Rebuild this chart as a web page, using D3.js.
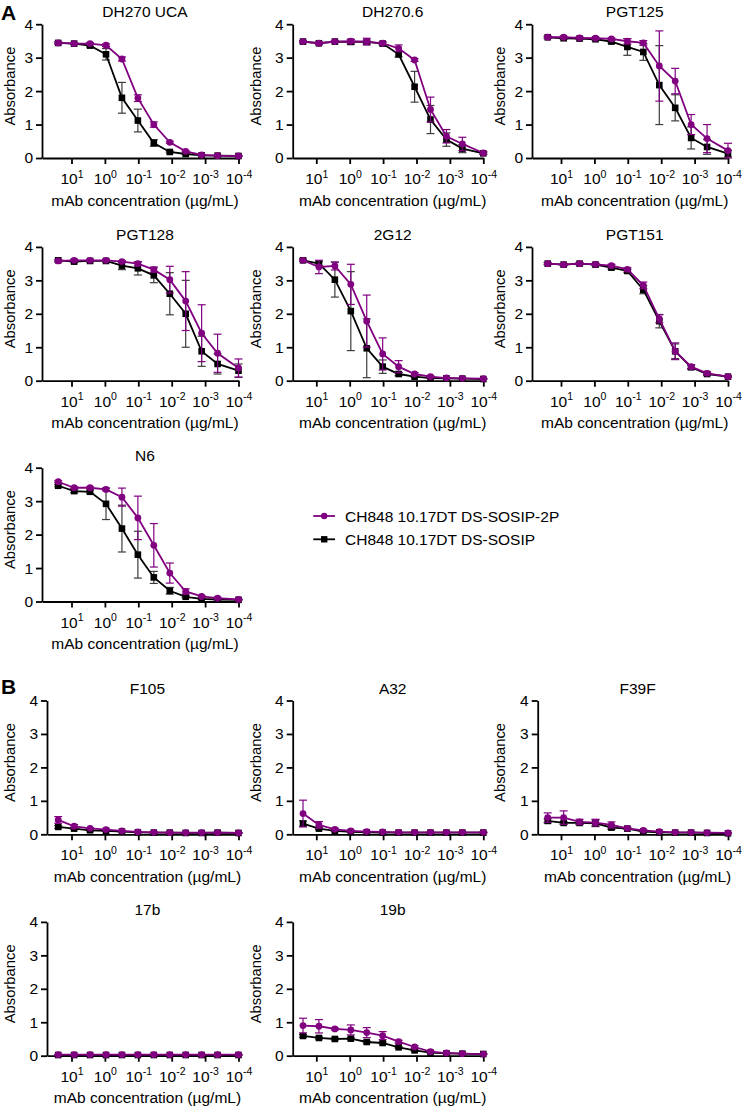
<!DOCTYPE html>
<html>
<head>
<meta charset="utf-8">
<script src="https://cdn.jsdelivr.net/npm/d3@7"></script>
<style>
  html, body { margin: 0; padding: 0; background: #fff; }
  svg { display: block; font-family: "Liberation Sans", Arial, Helvetica, sans-serif; }
</style>
</head>
<body>
<svg id="chart" width="742" height="1108"></svg>
<script>
// ---------- DATA ----------
const concentrations = [25, 8.33, 2.78, 0.926, 0.309, 0.103, 0.0343, 0.0114, 0.00381, 0.00127, 0.000423, 0.0001];
const xTickValues = [10, 1, 0.1, 0.01, 0.001, 0.0001];
const yTickValues = [0, 1, 2, 3, 4];
const seriesNames = ["CH848 10.17DT DS-SOSIP-2P", "CH848 10.17DT DS-SOSIP"];
const panelNames = ["DH270 UCA", "DH270.6", "PGT125", "PGT128", "2G12", "PGT151", "N6", "F105", "A32", "F39F", "17b", "19b"];

// mean / SD, "2P" = purple series, "DS" = black series
const dh270uca2P   = [3.44, 3.42, 3.42, 3.37, 2.96, 1.79, 1.00, 0.47, 0.20, 0.09, 0.07, 0.06];
const dh270uca2Psd = [0.03, 0.03, 0.03, 0.04, 0.06, 0.10, 0.08, 0.03, 0.02, 0.01, 0.01, 0.01];
const dh270ucaDS   = [3.44, 3.42, 3.36, 3.10, 1.80, 1.12, 0.45, 0.18, 0.12, 0.08, 0.07, 0.06];
const dh270ucaDSsd = [0.03, 0.03, 0.04, 0.17, 0.46, 0.34, 0.10, 0.03, 0.02, 0.01, 0.01, 0.01];

const dh2706_2P    = [3.48, 3.43, 3.48, 3.49, 3.48, 3.43, 3.28, 2.93, 1.45, 0.65, 0.42, 0.15];
const dh2706_2Psd  = [0.03, 0.03, 0.03, 0.06, 0.10, 0.04, 0.10, 0.04, 0.37, 0.20, 0.20, 0.04];
const dh2706_DS    = [3.48, 3.43, 3.48, 3.47, 3.47, 3.42, 3.10, 2.13, 1.15, 0.55, 0.28, 0.14];
const dh2706_DSsd  = [0.03, 0.03, 0.03, 0.07, 0.05, 0.04, 0.08, 0.46, 0.42, 0.20, 0.12, 0.03];

const pgt125_2P    = [3.61, 3.61, 3.59, 3.58, 3.56, 3.49, 3.44, 2.75, 2.30, 1.00, 0.58, 0.22];
const pgt125_2Psd  = [0.03, 0.03, 0.03, 0.03, 0.03, 0.08, 0.07, 1.05, 0.38, 0.30, 0.42, 0.22];
const pgt125_DS    = [3.61, 3.58, 3.57, 3.55, 3.48, 3.32, 3.17, 2.18, 1.50, 0.60, 0.33, 0.13];
const pgt125_DSsd  = [0.03, 0.03, 0.03, 0.03, 0.04, 0.25, 0.25, 1.18, 0.39, 0.33, 0.22, 0.10];

const pgt128_2P    = [3.58, 3.60, 3.60, 3.60, 3.56, 3.50, 3.32, 3.02, 2.38, 1.42, 0.82, 0.38];
const pgt128_2Psd  = [0.03, 0.03, 0.03, 0.03, 0.03, 0.05, 0.08, 0.40, 0.88, 0.85, 0.57, 0.27];
const pgt128_DS    = [3.60, 3.56, 3.58, 3.58, 3.44, 3.36, 3.15, 2.60, 2.00, 0.88, 0.50, 0.30];
const pgt128_DSsd  = [0.03, 0.03, 0.03, 0.03, 0.12, 0.20, 0.22, 0.63, 1.00, 0.45, 0.30, 0.20];

const g12_2P       = [3.60, 3.40, 3.43, 2.88, 1.78, 0.80, 0.42, 0.20, 0.12, 0.08, 0.07, 0.06];
const g12_2Psd     = [0.03, 0.20, 0.12, 0.60, 0.78, 0.48, 0.18, 0.04, 0.02, 0.01, 0.01, 0.01];
const g12_DS       = [3.60, 3.50, 3.02, 2.08, 0.97, 0.42, 0.20, 0.12, 0.08, 0.07, 0.06, 0.05];
const g12_DSsd     = [0.03, 0.05, 0.52, 1.18, 0.88, 0.20, 0.05, 0.02, 0.01, 0.01, 0.01, 0.01];

const pgt151_2P    = [3.50, 3.47, 3.50, 3.48, 3.44, 3.33, 2.85, 1.85, 0.88, 0.42, 0.22, 0.12];
const pgt151_2Psd  = [0.03, 0.03, 0.03, 0.03, 0.04, 0.05, 0.10, 0.12, 0.25, 0.06, 0.04, 0.02];
const pgt151_DS    = [3.50, 3.47, 3.50, 3.47, 3.38, 3.28, 2.72, 1.78, 0.88, 0.40, 0.20, 0.12];
const pgt151_DSsd  = [0.03, 0.03, 0.03, 0.03, 0.04, 0.05, 0.12, 0.20, 0.22, 0.06, 0.04, 0.02];

const n6_2P        = [3.58, 3.40, 3.40, 3.35, 3.12, 2.50, 1.68, 0.85, 0.30, 0.15, 0.10, 0.06];
const n6_2Psd      = [0.03, 0.03, 0.03, 0.04, 0.27, 0.65, 0.65, 0.30, 0.08, 0.03, 0.02, 0.01];
const n6_DS        = [3.46, 3.30, 3.28, 2.92, 2.18, 1.40, 0.72, 0.32, 0.14, 0.08, 0.06, 0.05];
const n6_DSsd      = [0.03, 0.05, 0.05, 0.47, 0.70, 0.70, 0.18, 0.10, 0.03, 0.01, 0.01, 0.01];

const f105_2P      = [0.43, 0.24, 0.18, 0.14, 0.10, 0.07, 0.06, 0.05, 0.05, 0.05, 0.05, 0.04];
const f105_2Psd    = [0.10, 0.05, 0.02, 0.02, 0.01, 0.01, 0.01, 0.01, 0.01, 0.01, 0.01, 0.01];
const f105_DS      = [0.22, 0.17, 0.12, 0.10, 0.08, 0.06, 0.05, 0.05, 0.04, 0.04, 0.05, 0.04];
const f105_DSsd    = [0.04, 0.02, 0.02, 0.01, 0.01, 0.01, 0.01, 0.01, 0.01, 0.01, 0.01, 0.01];

const a32_2P       = [0.62, 0.28, 0.15, 0.10, 0.08, 0.07, 0.06, 0.06, 0.06, 0.06, 0.06, 0.06];
const a32_2Psd     = [0.40, 0.10, 0.03, 0.02, 0.01, 0.01, 0.01, 0.01, 0.01, 0.01, 0.01, 0.01];
const a32_DS       = [0.32, 0.17, 0.10, 0.07, 0.06, 0.05, 0.05, 0.05, 0.05, 0.05, 0.05, 0.05];
const a32_DSsd     = [0.08, 0.03, 0.02, 0.01, 0.01, 0.01, 0.01, 0.01, 0.01, 0.01, 0.01, 0.01];

const f39f_2P      = [0.50, 0.50, 0.37, 0.35, 0.28, 0.18, 0.12, 0.08, 0.06, 0.06, 0.05, 0.04];
const f39f_2Psd    = [0.14, 0.20, 0.08, 0.10, 0.09, 0.03, 0.02, 0.01, 0.01, 0.01, 0.01, 0.01];
const f39f_DS      = [0.40, 0.34, 0.34, 0.33, 0.20, 0.17, 0.08, 0.06, 0.05, 0.05, 0.04, 0.03];
const f39f_DSsd    = [0.06, 0.04, 0.04, 0.10, 0.05, 0.02, 0.01, 0.01, 0.01, 0.01, 0.01, 0.01];

const b17_2P       = [0.03, 0.03, 0.03, 0.03, 0.03, 0.03, 0.03, 0.03, 0.03, 0.03, 0.03, 0.03];
const b17_2Psd     = [0.01, 0.01, 0.01, 0.01, 0.01, 0.01, 0.01, 0.01, 0.01, 0.01, 0.01, 0.01];
const b17_DS       = [0.02, 0.02, 0.02, 0.02, 0.02, 0.02, 0.02, 0.02, 0.02, 0.02, 0.02, 0.02];
const b17_DSsd     = [0.01, 0.01, 0.01, 0.01, 0.01, 0.01, 0.01, 0.01, 0.01, 0.01, 0.01, 0.01];

const b19_2P       = [0.90, 0.88, 0.80, 0.77, 0.69, 0.60, 0.42, 0.26, 0.12, 0.08, 0.06, 0.05];
const b19_2Psd     = [0.22, 0.20, 0.03, 0.15, 0.15, 0.12, 0.04, 0.04, 0.02, 0.01, 0.01, 0.01];
const b19_DS       = [0.59, 0.53, 0.50, 0.51, 0.41, 0.38, 0.25, 0.16, 0.09, 0.07, 0.06, 0.05];
const b19_DSsd     = [0.04, 0.03, 0.03, 0.03, 0.03, 0.03, 0.02, 0.02, 0.01, 0.01, 0.01, 0.01];

// ---------- LAYOUT ----------
const PURPLE = "#800080";
const BLACK = "#000000";
const FONT = 15.5;
const decadePx = 33.4;
const colEnd = [238.5, 483.3, 728];
const colLeft = [0, 246, 490];
const axisXA = [42, 292.7, 532];
const axisXB = [47, 292.7, 537.7];
const rowBottom = [158, 380.7, 601.5, 834.3, 1055.7];
const plotH = 133.8;

const panels = [
  {name: panelNames[0], col: 0, row: 0, sec: "A", p: dh270uca2P, ps: dh270uca2Psd, b: dh270ucaDS, bs: dh270ucaDSsd},
  {name: panelNames[1], col: 1, row: 0, sec: "A", p: dh2706_2P, ps: dh2706_2Psd, b: dh2706_DS, bs: dh2706_DSsd},
  {name: panelNames[2], col: 2, row: 0, sec: "A", p: pgt125_2P, ps: pgt125_2Psd, b: pgt125_DS, bs: pgt125_DSsd},
  {name: panelNames[3], col: 0, row: 1, sec: "A", p: pgt128_2P, ps: pgt128_2Psd, b: pgt128_DS, bs: pgt128_DSsd},
  {name: panelNames[4], col: 1, row: 1, sec: "A", p: g12_2P, ps: g12_2Psd, b: g12_DS, bs: g12_DSsd},
  {name: panelNames[5], col: 2, row: 1, sec: "A", p: pgt151_2P, ps: pgt151_2Psd, b: pgt151_DS, bs: pgt151_DSsd},
  {name: panelNames[6], col: 0, row: 2, sec: "A", p: n6_2P, ps: n6_2Psd, b: n6_DS, bs: n6_DSsd},
  {name: panelNames[7], col: 0, row: 3, sec: "B", p: f105_2P, ps: f105_2Psd, b: f105_DS, bs: f105_DSsd},
  {name: panelNames[8], col: 1, row: 3, sec: "B", p: a32_2P, ps: a32_2Psd, b: a32_DS, bs: a32_DSsd},
  {name: panelNames[9], col: 2, row: 3, sec: "B", p: f39f_2P, ps: f39f_2Psd, b: f39f_DS, bs: f39f_DSsd},
  {name: panelNames[10], col: 0, row: 4, sec: "B", p: b17_2P, ps: b17_2Psd, b: b17_DS, bs: b17_DSsd},
  {name: panelNames[11], col: 1, row: 4, sec: "B", p: b19_2P, ps: b19_2Psd, b: b19_DS, bs: b19_DSsd}
];

const svg = d3.select("#chart");

function drawSeries(g, x, y, vals, sds, color, barColor, shape) {
  const pts = concentrations.map((c, i) => ({c, v: vals[i], s: sds[i]}));
  const eb = g.append("g").attr("stroke", barColor).attr("stroke-width", 1.2).attr("fill", "none");
  pts.forEach(d => {
    const y1 = y(d.v + d.s), y2 = y(Math.max(0, d.v - d.s)), xc = x(d.c);
    eb.append("line").attr("x1", xc).attr("x2", xc).attr("y1", y1).attr("y2", y2);
    eb.append("line").attr("x1", xc - 4).attr("x2", xc + 4).attr("y1", y1).attr("y2", y1);
    eb.append("line").attr("x1", xc - 4).attr("x2", xc + 4).attr("y1", y2).attr("y2", y2);
  });
  g.append("path").datum(pts)
    .attr("fill", "none").attr("stroke", color).attr("stroke-width", 1.8)
    .attr("d", d3.line().x(d => x(d.c)).y(d => y(d.v)));
  if (shape === "circle") {
    g.append("g").selectAll("circle").data(pts).join("circle")
      .attr("cx", d => x(d.c)).attr("cy", d => y(d.v)).attr("r", 3.4).attr("fill", color);
  } else {
    g.append("g").selectAll("rect").data(pts).join("rect")
      .attr("x", d => x(d.c) - 3.3).attr("y", d => y(d.v) - 3.3)
      .attr("width", 6.6).attr("height", 6.6).attr("fill", color);
  }
}

panels.forEach(P => {
  const endX = colEnd[P.col];
  const axisX = (P.sec === "A" ? axisXA : axisXB)[P.col];
  const x10 = endX - 5 * decadePx;
  const leftVal = Math.pow(10, 1 + (x10 - axisX) / decadePx);
  const bottom = rowBottom[P.row];
  const top = bottom - plotH;
  const x = d3.scaleLog().domain([leftVal, 0.0001]).range([axisX, endX]);
  const y = d3.scaleLinear().domain([0, 4]).range([bottom, top]);
  const g = svg.append("g");

  // x axis
  const xa = g.append("g").attr("transform", `translate(0,${bottom})`)
    .call(d3.axisBottom(x).tickValues(xTickValues).tickSize(6).tickSizeOuter(0).tickFormat(() => ""));
  xa.selectAll("path, line").attr("stroke", "#000").attr("stroke-width", 1.8);
  xa.selectAll(".tick").each(function(d) {
    const e = Math.round(Math.log10(d));
    const t = d3.select(this).select("text")
      .attr("y", 26).attr("dy", null).attr("fill", "#000")
      .attr("font-size", FONT).attr("font-family", null).attr("text-anchor", "middle").text(null);
    t.append("tspan").text("10");
    t.append("tspan").attr("dy", -6.5).attr("font-size", 10.5).text(e);
  });

  // y axis
  const ya = g.append("g").attr("transform", `translate(${axisX},0)`)
    .call(d3.axisLeft(y).tickValues(yTickValues).tickSize(6).tickSizeOuter(0).tickFormat(d3.format("d")));
  ya.selectAll("path, line").attr("stroke", "#000").attr("stroke-width", 1.8);
  ya.selectAll("text").attr("x", -9).attr("font-size", FONT).attr("font-family", null).attr("fill", "#000");

  // labels
  const cx = (axisX + endX) / 2 + 4.7;
  g.append("text").attr("x", cx).attr("y", top - 7).attr("text-anchor", "middle")
    .attr("font-size", FONT).text(P.name);
  g.append("text").attr("x", cx).attr("y", bottom + 47.5).attr("text-anchor", "middle")
    .attr("font-size", FONT).text("mAb concentration (µg/mL)");
  g.append("text")
    .attr("transform", `translate(${colLeft[P.col] + 15},${(top + bottom) / 2 - 5}) rotate(-90)`)
    .attr("text-anchor", "middle").attr("font-size", 14.8).text("Absorbance");

  drawSeries(g, x, y, P.b, P.bs, BLACK, "#3c3c3c", "square");
  drawSeries(g, x, y, P.p, P.ps, PURPLE, PURPLE, "circle");
});

// section letters
svg.append("text").attr("x", 1).attr("y", 20).attr("font-size", 21).attr("font-weight", "bold").text("A");
svg.append("text").attr("x", 1).attr("y", 694).attr("font-size", 21).attr("font-weight", "bold").text("B");

// legend
const legend = svg.append("g");
const legendY = [516, 539.3];
seriesNames.forEach((nm, i) => {
  const color = i === 0 ? PURPLE : BLACK;
  const ly = legendY[i];
  legend.append("line").attr("x1", 313.3).attr("x2", 335).attr("y1", ly).attr("y2", ly)
    .attr("stroke", color).attr("stroke-width", 1.8);
  if (i === 0) legend.append("circle").attr("cx", 324.2).attr("cy", ly).attr("r", 3.2).attr("fill", color);
  else legend.append("rect").attr("x", 321).attr("y", ly - 3.2).attr("width", 6.4).attr("height", 6.4).attr("fill", color);
  legend.append("text").attr("x", 345).attr("y", ly + 5.5).attr("font-size", FONT).text(nm);
});
</script>
</body>
</html>
